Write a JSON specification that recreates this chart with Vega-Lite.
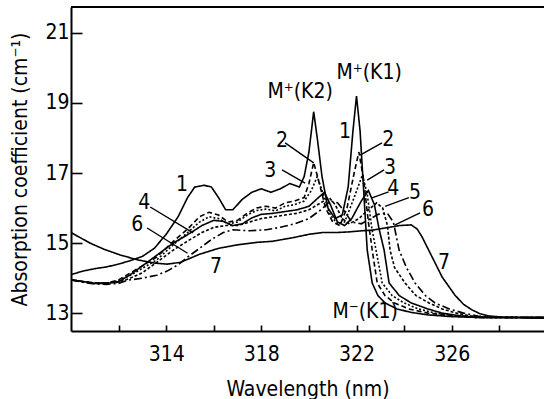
{
"$schema": "https://vega.github.io/schema/vega-lite/v6.json",
"width": 473, "height": 324,
"autosize": "none",
"padding": {"left": 71, "top": 7, "right": 0, "bottom": 68},
"background": "white",
"view": {"stroke": null},
"config": {"font": "DejaVu Sans Condensed, Liberation Sans Narrow, DejaVu Sans", "axis": {"labelFont": "DejaVu Sans Condensed, DejaVu Sans", "titleFont": "DejaVu Sans Condensed, DejaVu Sans", "grid": false, "domainColor": "black", "domainWidth": 2, "tickColor": "black", "tickWidth": 1.6, "labelColor": "black", "titleColor": "black", "titleFontWeight": "normal"}},
"datasets": {
"curves": [
{"c":"1","x":310,"y":14.1},{"c":"1","x":310.5,"y":14.2},{"c":"1","x":311,"y":14.27},{"c":"1","x":311.5,"y":14.32},{"c":"1","x":312,"y":14.4},{"c":"1","x":312.5,"y":14.5},{"c":"1","x":313,"y":14.62},{"c":"1","x":313.5,"y":14.85},{"c":"1","x":314,"y":15.25},{"c":"1","x":314.5,"y":15.75},{"c":"1","x":314.9,"y":16.3},{"c":"1","x":315.2,"y":16.6},{"c":"1","x":315.6,"y":16.65},{"c":"1","x":315.9,"y":16.6},{"c":"1","x":316.2,"y":16.3},{"c":"1","x":316.5,"y":15.95},{"c":"1","x":316.8,"y":15.95},{"c":"1","x":317.2,"y":16.25},{"c":"1","x":317.6,"y":16.45},{"c":"1","x":318,"y":16.55},{"c":"1","x":318.4,"y":16.45},{"c":"1","x":318.8,"y":16.55},{"c":"1","x":319.2,"y":16.7},{"c":"1","x":319.6,"y":16.6},{"c":"1","x":319.8,"y":16.9},{"c":"1","x":320,"y":17.6},{"c":"1","x":320.2,"y":18.75},{"c":"1","x":320.35,"y":18.0},{"c":"1","x":320.55,"y":16.9},{"c":"1","x":320.8,"y":16.0},{"c":"1","x":321.1,"y":15.7},{"c":"1","x":321.4,"y":15.8},{"c":"1","x":321.65,"y":16.6},{"c":"1","x":321.85,"y":18.2},{"c":"1","x":322,"y":19.2},{"c":"1","x":322.15,"y":18.2},{"c":"1","x":322.3,"y":16.5},{"c":"1","x":322.45,"y":14.8},{"c":"1","x":322.66,"y":13.86},{"c":"1","x":322.9,"y":13.5},{"c":"1","x":323.2,"y":13.29},{"c":"1","x":323.7,"y":13.12},{"c":"1","x":324.3,"y":13.02},{"c":"1","x":325,"y":12.95},{"c":"1","x":326,"y":12.9},{"c":"1","x":327,"y":12.88},{"c":"1","x":330,"y":12.87},
{"c":"2","x":310,"y":13.95},{"c":"2","x":310.5,"y":13.9},{"c":"2","x":311,"y":13.86},{"c":"2","x":311.5,"y":13.86},{"c":"2","x":312,"y":13.95},{"c":"2","x":312.5,"y":14.15},{"c":"2","x":313,"y":14.35},{"c":"2","x":313.6,"y":14.6},{"c":"2","x":314.3,"y":15.05},{"c":"2","x":314.9,"y":15.4},{"c":"2","x":315.4,"y":15.75},{"c":"2","x":315.8,"y":15.88},{"c":"2","x":316.2,"y":15.8},{"c":"2","x":316.6,"y":15.6},{"c":"2","x":317,"y":15.65},{"c":"2","x":317.4,"y":15.85},{"c":"2","x":317.8,"y":16.0},{"c":"2","x":318.2,"y":16.05},{"c":"2","x":318.6,"y":16.0},{"c":"2","x":319,"y":16.15},{"c":"2","x":319.4,"y":16.2},{"c":"2","x":319.8,"y":16.3},{"c":"2","x":320,"y":16.7},{"c":"2","x":320.2,"y":17.3},{"c":"2","x":320.4,"y":16.8},{"c":"2","x":320.7,"y":16.0},{"c":"2","x":321,"y":15.6},{"c":"2","x":321.3,"y":15.5},{"c":"2","x":321.6,"y":16.0},{"c":"2","x":321.9,"y":17.0},{"c":"2","x":322.1,"y":17.6},{"c":"2","x":322.3,"y":16.8},{"c":"2","x":322.5,"y":15.6},{"c":"2","x":322.66,"y":14.8},{"c":"2","x":322.87,"y":13.86},{"c":"2","x":323.2,"y":13.5},{"c":"2","x":323.6,"y":13.29},{"c":"2","x":324.2,"y":13.12},{"c":"2","x":325,"y":13.0},{"c":"2","x":326,"y":12.92},{"c":"2","x":327,"y":12.88},{"c":"2","x":330,"y":12.87},
{"c":"3","x":310,"y":13.95},{"c":"3","x":311,"y":13.86},{"c":"3","x":311.5,"y":13.86},{"c":"3","x":312,"y":13.92},{"c":"3","x":312.5,"y":14.08},{"c":"3","x":313,"y":14.28},{"c":"3","x":313.6,"y":14.52},{"c":"3","x":314.3,"y":14.95},{"c":"3","x":314.9,"y":15.3},{"c":"3","x":315.4,"y":15.6},{"c":"3","x":315.8,"y":15.75},{"c":"3","x":316.2,"y":15.7},{"c":"3","x":316.6,"y":15.55},{"c":"3","x":317,"y":15.6},{"c":"3","x":317.4,"y":15.8},{"c":"3","x":317.8,"y":15.93},{"c":"3","x":318.2,"y":15.97},{"c":"3","x":318.6,"y":15.92},{"c":"3","x":319,"y":16.05},{"c":"3","x":319.4,"y":16.1},{"c":"3","x":319.8,"y":16.2},{"c":"3","x":320.1,"y":16.5},{"c":"3","x":320.35,"y":16.9},{"c":"3","x":320.6,"y":16.4},{"c":"3","x":320.9,"y":15.8},{"c":"3","x":321.2,"y":15.55},{"c":"3","x":321.5,"y":15.6},{"c":"3","x":321.9,"y":16.3},{"c":"3","x":322.25,"y":16.95},{"c":"3","x":322.45,"y":16.4},{"c":"3","x":322.65,"y":15.4},{"c":"3","x":322.82,"y":14.8},{"c":"3","x":323.08,"y":13.86},{"c":"3","x":323.5,"y":13.5},{"c":"3","x":324,"y":13.29},{"c":"3","x":324.6,"y":13.12},{"c":"3","x":325.3,"y":13.0},{"c":"3","x":326.2,"y":12.92},{"c":"3","x":327,"y":12.88},{"c":"3","x":330,"y":12.87},
{"c":"4","x":310,"y":13.95},{"c":"4","x":311,"y":13.85},{"c":"4","x":311.5,"y":13.85},{"c":"4","x":312,"y":13.9},{"c":"4","x":312.5,"y":14.1},{"c":"4","x":312.9,"y":14.3},{"c":"4","x":313.6,"y":14.65},{"c":"4","x":314.3,"y":15.0},{"c":"4","x":315,"y":15.28},{"c":"4","x":315.5,"y":15.5},{"c":"4","x":316,"y":15.65},{"c":"4","x":316.4,"y":15.62},{"c":"4","x":316.8,"y":15.5},{"c":"4","x":317.2,"y":15.55},{"c":"4","x":317.6,"y":15.72},{"c":"4","x":318,"y":15.82},{"c":"4","x":318.5,"y":15.85},{"c":"4","x":319,"y":15.9},{"c":"4","x":319.5,"y":15.95},{"c":"4","x":320,"y":16.05},{"c":"4","x":320.4,"y":16.3},{"c":"4","x":320.65,"y":16.45},{"c":"4","x":320.9,"y":16.1},{"c":"4","x":321.2,"y":15.6},{"c":"4","x":321.5,"y":15.5},{"c":"4","x":321.8,"y":15.7},{"c":"4","x":322.2,"y":16.2},{"c":"4","x":322.5,"y":16.5},{"c":"4","x":322.75,"y":16.1},{"c":"4","x":322.95,"y":15.4},{"c":"4","x":323.16,"y":14.8},{"c":"4","x":323.37,"y":13.86},{"c":"4","x":323.8,"y":13.5},{"c":"4","x":324.3,"y":13.29},{"c":"4","x":325,"y":13.12},{"c":"4","x":325.6,"y":13.0},{"c":"4","x":326.4,"y":12.92},{"c":"4","x":327.2,"y":12.88},{"c":"4","x":330,"y":12.87},
{"c":"5","x":310,"y":13.95},{"c":"5","x":311,"y":13.85},{"c":"5","x":312,"y":13.88},{"c":"5","x":312.5,"y":14.0},{"c":"5","x":313,"y":14.15},{"c":"5","x":313.6,"y":14.45},{"c":"5","x":314.3,"y":14.8},{"c":"5","x":315,"y":15.1},{"c":"5","x":315.5,"y":15.3},{"c":"5","x":316,"y":15.45},{"c":"5","x":316.5,"y":15.5},{"c":"5","x":317,"y":15.5},{"c":"5","x":317.5,"y":15.6},{"c":"5","x":318,"y":15.7},{"c":"5","x":318.5,"y":15.75},{"c":"5","x":319,"y":15.8},{"c":"5","x":319.5,"y":15.85},{"c":"5","x":320,"y":15.95},{"c":"5","x":320.5,"y":16.15},{"c":"5","x":320.85,"y":16.3},{"c":"5","x":321.1,"y":16.1},{"c":"5","x":321.4,"y":15.7},{"c":"5","x":321.7,"y":15.55},{"c":"5","x":322.1,"y":15.7},{"c":"5","x":322.5,"y":15.95},{"c":"5","x":322.85,"y":16.15},{"c":"5","x":323.1,"y":16.0},{"c":"5","x":323.3,"y":15.5},{"c":"5","x":323.41,"y":14.8},{"c":"5","x":323.6,"y":14.3},{"c":"5","x":324.04,"y":13.86},{"c":"5","x":324.5,"y":13.5},{"c":"5","x":325.05,"y":13.29},{"c":"5","x":325.6,"y":13.12},{"c":"5","x":326.2,"y":13.0},{"c":"5","x":326.8,"y":12.92},{"c":"5","x":327.5,"y":12.88},{"c":"5","x":330,"y":12.87},
{"c":"6","x":310,"y":13.95},{"c":"6","x":310.5,"y":13.88},{"c":"6","x":311,"y":13.83},{"c":"6","x":311.5,"y":13.82},{"c":"6","x":312,"y":13.85},{"c":"6","x":312.4,"y":13.94},{"c":"6","x":313,"y":14.0},{"c":"6","x":313.6,"y":14.08},{"c":"6","x":314.04,"y":14.2},{"c":"6","x":314.5,"y":14.38},{"c":"6","x":314.9,"y":14.6},{"c":"6","x":315.4,"y":14.85},{"c":"6","x":315.9,"y":15.1},{"c":"6","x":316.4,"y":15.3},{"c":"6","x":316.8,"y":15.38},{"c":"6","x":317.5,"y":15.35},{"c":"6","x":318.2,"y":15.38},{"c":"6","x":318.8,"y":15.45},{"c":"6","x":319.4,"y":15.55},{"c":"6","x":320,"y":15.7},{"c":"6","x":320.5,"y":15.95},{"c":"6","x":320.9,"y":16.2},{"c":"6","x":321.2,"y":16.15},{"c":"6","x":321.5,"y":15.9},{"c":"6","x":321.8,"y":15.6},{"c":"6","x":322.2,"y":15.55},{"c":"6","x":322.6,"y":15.7},{"c":"6","x":322.9,"y":15.82},{"c":"6","x":323.3,"y":15.85},{"c":"6","x":323.55,"y":15.6},{"c":"6","x":323.79,"y":14.8},{"c":"6","x":324.1,"y":14.3},{"c":"6","x":324.46,"y":13.86},{"c":"6","x":324.9,"y":13.5},{"c":"6","x":325.3,"y":13.29},{"c":"6","x":325.9,"y":13.12},{"c":"6","x":326.5,"y":13.0},{"c":"6","x":327.1,"y":12.92},{"c":"6","x":327.8,"y":12.88},{"c":"6","x":330,"y":12.87},
{"c":"7","x":310,"y":15.3},{"c":"7","x":310.4,"y":15.15},{"c":"7","x":310.8,"y":15.0},{"c":"7","x":311.4,"y":14.82},{"c":"7","x":312.07,"y":14.66},{"c":"7","x":312.8,"y":14.52},{"c":"7","x":313.5,"y":14.43},{"c":"7","x":314.04,"y":14.4},{"c":"7","x":314.6,"y":14.45},{"c":"7","x":315.4,"y":14.68},{"c":"7","x":316.2,"y":14.85},{"c":"7","x":317,"y":14.95},{"c":"7","x":317.8,"y":15.02},{"c":"7","x":318.45,"y":15.05},{"c":"7","x":319.3,"y":15.15},{"c":"7","x":320,"y":15.25},{"c":"7","x":320.55,"y":15.3},{"c":"7","x":321.1,"y":15.3},{"c":"7","x":321.7,"y":15.32},{"c":"7","x":322.2,"y":15.35},{"c":"7","x":322.66,"y":15.37},{"c":"7","x":323.2,"y":15.43},{"c":"7","x":323.8,"y":15.5},{"c":"7","x":324.3,"y":15.52},{"c":"7","x":324.55,"y":15.4},{"c":"7","x":324.76,"y":15.17},{"c":"7","x":325.18,"y":14.6},{"c":"7","x":325.6,"y":14.03},{"c":"7","x":326.14,"y":13.51},{"c":"7","x":326.5,"y":13.25},{"c":"7","x":326.86,"y":13.09},{"c":"7","x":327.2,"y":12.98},{"c":"7","x":327.57,"y":12.92},{"c":"7","x":328.2,"y":12.88},{"c":"7","x":330,"y":12.87}
],
"labels": [
{"t":"M⁺(K1)","x":322.53,"y":19.86},{"t":"M⁺(K2)","x":319.63,"y":19.31},{"t":"M⁻(K1)","x":322.36,"y":13.03},
{"t":"1","x":314.67,"y":16.66},{"t":"4","x":313.08,"y":16.14},{"t":"6","x":312.78,"y":15.51},{"t":"7","x":316.1,"y":14.31},
{"t":"2","x":318.87,"y":17.91},{"t":"3","x":318.37,"y":17.06},
{"t":"1","x":321.52,"y":18.17},{"t":"2","x":323.33,"y":17.94},{"t":"3","x":323.41,"y":17.14},{"t":"4","x":323.54,"y":16.54},{"t":"5","x":324.46,"y":16.43},{"t":"6","x":325.0,"y":15.94},{"t":"7","x":325.68,"y":14.43}
],
"leaders": [
{"x":313.33,"y":16.03,"x2":315.13,"y2":15.29},
{"x":313.2,"y":15.43,"x2":314.9,"y2":14.71},
{"x":319.0,"y":17.86,"x2":320.2,"y2":17.29},
{"x":318.87,"y":17.09,"x2":319.84,"y2":16.71},
{"x":323.07,"y":17.86,"x2":322.15,"y2":17.51},
{"x":323.16,"y":17.09,"x2":322.45,"y2":16.8},
{"x":323.35,"y":16.46,"x2":322.65,"y2":16.29},
{"x":324.2,"y":16.3,"x2":323.2,"y2":16.05},
{"x":324.67,"y":15.86,"x2":323.6,"y2":15.51}
],
"frame": [{"y":21.74}]
},
"layer": [
{"data": {"name": "curves"},
 "mark": {"type": "line", "color": "black", "strokeWidth": 1.6, "clip": true},
 "encoding": {
  "x": {"field": "x", "type": "quantitative", "scale": {"domain": [310, 329.88], "nice": false, "zero": false},
        "axis": {"title": "Wavelength (nm)", "values": [312,314,316,318,320,322,324,326,328], "labelExpr": "datum.value % 4 == 2 ? datum.label : ''", "tickSize": -6, "labelPadding": 18, "labelFontSize": 21, "titleFontSize": 21, "titlePadding": 14, "labelFlush": false}},
  "y": {"field": "y", "type": "quantitative", "scale": {"domain": [12.49, 21.74], "nice": false, "zero": false},
        "axis": {"title": "Absorption coefficient (cm⁻¹)", "values": [13,15,17,19,21], "tickSize": -11, "labelPadding": 13, "labelFontSize": 21, "titleFontSize": 21, "titlePadding": 14}},
  "strokeDash": {"field": "c", "type": "nominal", "legend": null,
        "scale": {"domain": ["1","2","3","4","5","6","7"], "range": [[1,0],[5,3],[2,2],[1,0],[3,2],[8,3,2,3],[1,0]]}}
 }},
{"data": {"name": "leaders"},
 "mark": {"type": "rule", "color": "black", "strokeWidth": 1.4},
 "encoding": {"x": {"field": "x", "type": "quantitative"}, "y": {"field": "y", "type": "quantitative"}, "x2": {"field": "x2"}, "y2": {"field": "y2"}}},
{"data": {"name": "labels"},
 "mark": {"type": "text", "color": "black", "fontSize": 21, "align": "center", "baseline": "middle", "font": "DejaVu Sans Condensed, DejaVu Sans"},
 "encoding": {"x": {"field": "x", "type": "quantitative"}, "y": {"field": "y", "type": "quantitative"}, "text": {"field": "t"}}},
{"data": {"name": "frame"},
 "mark": {"type": "rule", "color": "black", "strokeWidth": 2},
 "encoding": {"y": {"field": "y", "type": "quantitative"}}}
]
}
